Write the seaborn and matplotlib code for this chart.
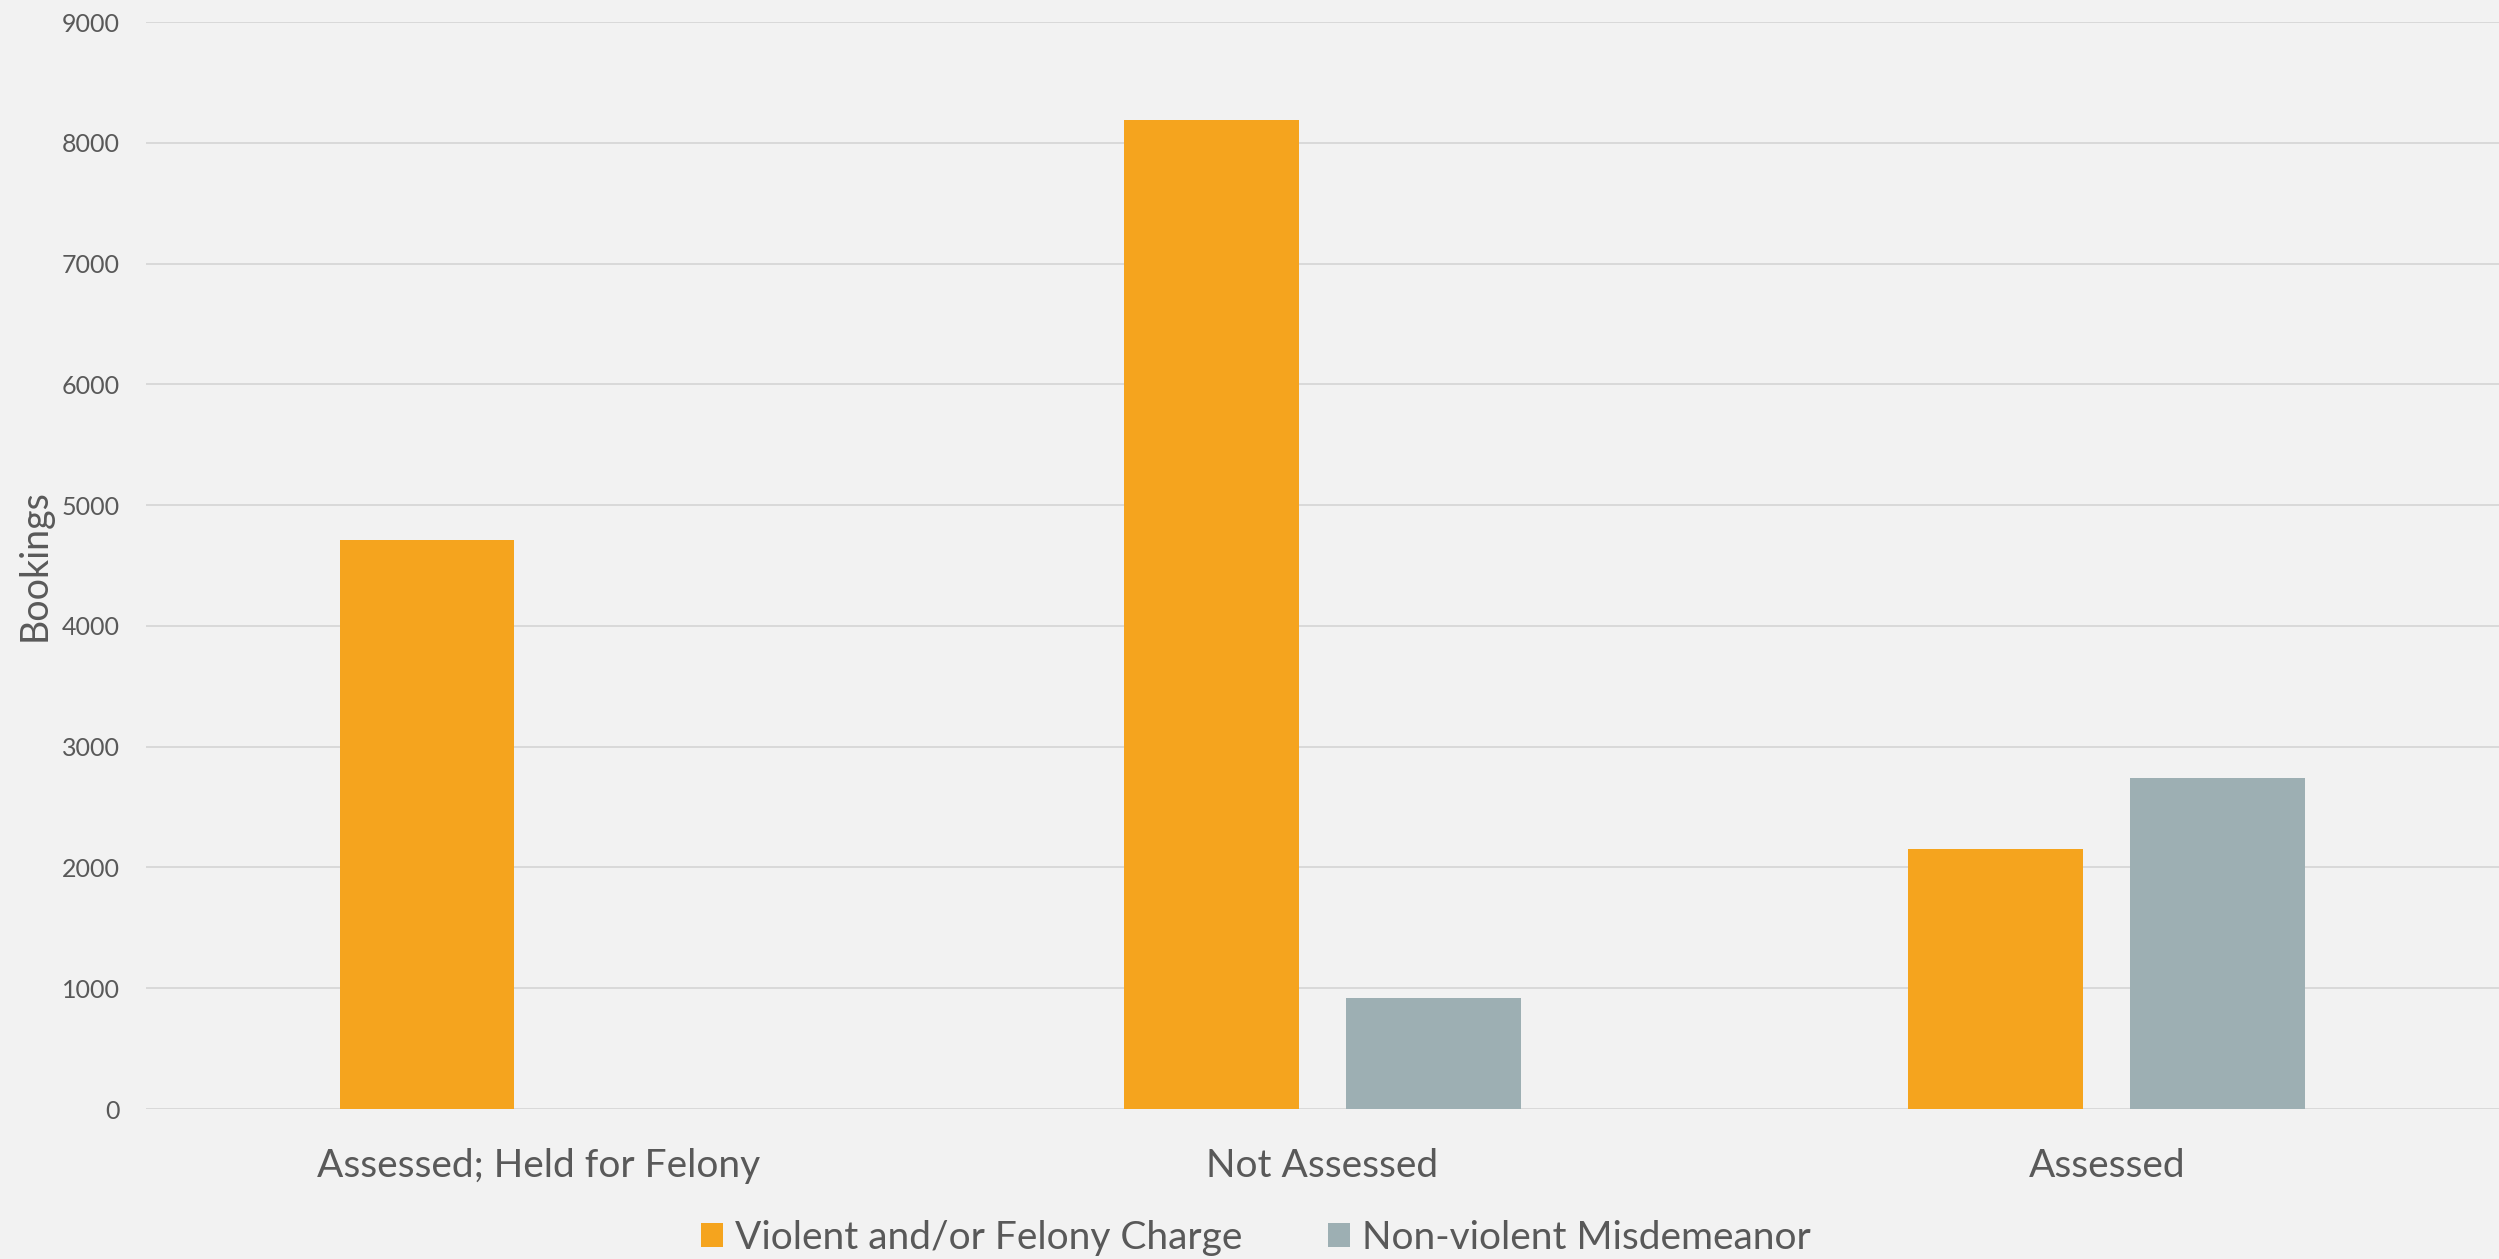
import pandas as pd
import matplotlib.pyplot as plt
import seaborn as sns

# values
categories = ['Assessed; Held for Felony', 'Not Assessed', 'Assessed']
violent_felony = [4715, 8185, 2150]
nonviolent_misd = [0, 920, 2740]
series_names = ['Violent and/or Felony Charge', 'Non-violent Misdemeanor']
bar_colors = ['#F5A41E', '#9DAFB3']
y_ticks = [0, 1000, 2000, 3000, 4000, 5000, 6000, 7000, 8000, 9000]

# long format for seaborn
df = pd.DataFrame({
    'Category': categories * 2,
    'Series': [series_names[0]] * 3 + [series_names[1]] * 3,
    'Bookings': violent_felony + nonviolent_misd,
})

sns.set_theme(style='white')
plt.rcParams['font.family'] = ['Lato', 'DejaVu Sans']
txt = '#595959'
bg = '#F2F2F2'

fig = plt.figure(figsize=(24.99, 12.59), dpi=100, facecolor=bg)
ax = fig.add_axes([0.0584, 0.1191, 0.9416, 0.8634])
ax.set_facecolor(bg)

sns.barplot(data=df, x='Category', y='Bookings', hue='Series',
            order=categories, hue_order=series_names, palette=bar_colors,
            width=0.566, gap=0.213, saturation=1, linewidth=0, ax=ax)

ax.set_xlim(-0.5, 2.5)
ax.set_ylim(0, 9000)
ax.set_yticks(y_ticks)
ax.yaxis.grid(True, color='#D9D9D9', linewidth=1.4)
ax.set_axisbelow(True)
for s in ax.spines.values():
    s.set_visible(False)

ax.tick_params(axis='y', length=0, pad=19, labelsize=18, labelcolor=txt)
ax.tick_params(axis='x', length=0, pad=28, labelsize=28, labelcolor=txt)
ax.set_xlabel('')
ax.set_ylabel('Bookings', fontsize=27, color=txt)
ax.yaxis.set_label_coords(-0.0395, 0.5)

# legend goes under the plot, centred on the figure
handles, labels = ax.get_legend_handles_labels()
ax.get_legend().remove()
fig.legend(handles, labels, loc='center', bbox_to_anchor=(0.5026, 0.017),
           ncol=2, frameon=False, fontsize=28, labelcolor=txt,
           handlelength=0.57, handleheight=0.57, handletextpad=0.3,
           columnspacing=2.2, borderpad=0, borderaxespad=0)

fig.savefig('out.png', dpi=100, facecolor=bg)
